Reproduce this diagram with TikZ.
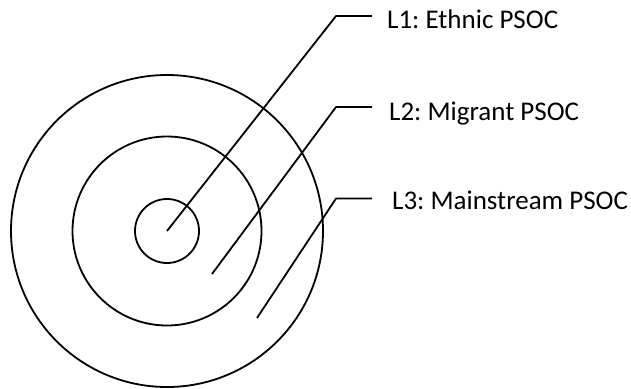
\documentclass[tikz,border=0pt]{standalone}
\usepackage{fontspec}
\setmainfont{Carlito}
\frenchspacing
\begin{document}
\begin{tikzpicture}[x=1pt,y=-1pt,
  ring/.style={draw=black,line width=1.8pt,circle,inner sep=0pt,minimum size=#1},
  leader/.style={draw=black,line width=1.8pt,line join=round},
  label/.style={anchor=base west,inner sep=0pt,font=\fontsize{27}{30}\selectfont}]
\useasboundingbox (0,0) rectangle (631,388);
% circles
\node[ring=312pt] (outer) at (167,231) {};
\node[ring=189pt] (middle) at (167,231) {};
\node[ring=64pt] (inner) at (167,231) {};
% leader line endpoints
\coordinate (s1) at (167,231);
\coordinate (b1) at (336,16);
\coordinate (e1) at (372,16);
\coordinate (s2) at (212,274);
\coordinate (b2) at (336,107);
\coordinate (e2) at (372,107);
\coordinate (s3) at (257,318);
\coordinate (b3) at (336,198.5);
\coordinate (e3) at (372,198.5);
% labels
\node[label] (t1) at (387,28) {L1: Ethnic PSOC};
\node[label] (t2) at (389,120) {L2: Migrant PSOC};
\node[label] (t3) at (392,209.5) {L3: Mainstream PSOC};
% leaders
\draw[leader] (s1) -- (b1) -- (e1);
\draw[leader] (s2) -- (b2) -- (e2);
\draw[leader] (s3) -- (b3) -- (e3);
\end{tikzpicture}
\end{document}
